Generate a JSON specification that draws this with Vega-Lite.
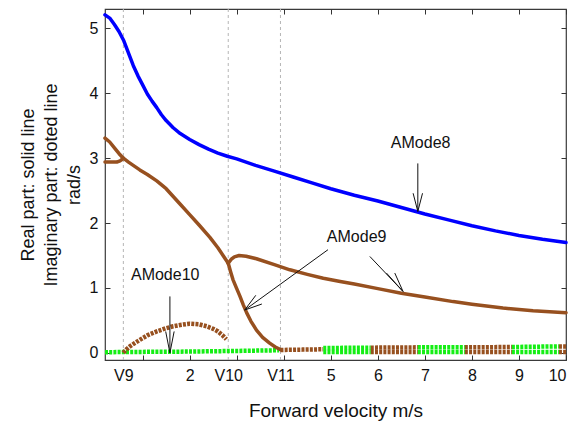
{
  "$schema": "https://vega.github.io/schema/vega-lite/v6.json",
  "width": 461,
  "height": 351,
  "autosize": {"type": "none"},
  "padding": {"left": 105, "top": 9, "right": 13, "bottom": 75},
  "config": {
    "view": {"stroke": "#3a3a3a", "strokeWidth": 1.2},
    "font": "Liberation Sans",
    "axis": {
      "labelFont": "Liberation Sans", "labelFontSize": 16, "labelColor": "#111",
      "titleFont": "Liberation Sans", "titleFontSize": 19, "titleFontWeight": "normal", "titleColor": "#111",
      "tickColor": "#333", "tickSize": -5, "tickWidth": 1, "domain": false, "grid": false, "labelPadding": 12
    }
  },
  "datasets": {
    "vlines": [{"v": 0.59}, {"v": 2.82}, {"v": 3.93}],
    "real": [
      {"series": "AMode8", "grp": "blue", "x": 0.2, "y": 5.21},
      {"series": "AMode8", "grp": "blue", "x": 0.3, "y": 5.16},
      {"series": "AMode8", "grp": "blue", "x": 0.4, "y": 5.06},
      {"series": "AMode8", "grp": "blue", "x": 0.5, "y": 4.95},
      {"series": "AMode8", "grp": "blue", "x": 0.6, "y": 4.81},
      {"series": "AMode8", "grp": "blue", "x": 0.7, "y": 4.62},
      {"series": "AMode8", "grp": "blue", "x": 0.8, "y": 4.43},
      {"series": "AMode8", "grp": "blue", "x": 0.9, "y": 4.27},
      {"series": "AMode8", "grp": "blue", "x": 1.0, "y": 4.13},
      {"series": "AMode8", "grp": "blue", "x": 1.1, "y": 3.99},
      {"series": "AMode8", "grp": "blue", "x": 1.2, "y": 3.88},
      {"series": "AMode8", "grp": "blue", "x": 1.3, "y": 3.78},
      {"series": "AMode8", "grp": "blue", "x": 1.4, "y": 3.67},
      {"series": "AMode8", "grp": "blue", "x": 1.5, "y": 3.58},
      {"series": "AMode8", "grp": "blue", "x": 1.65, "y": 3.47},
      {"series": "AMode8", "grp": "blue", "x": 1.8, "y": 3.38},
      {"series": "AMode8", "grp": "blue", "x": 2.0, "y": 3.29},
      {"series": "AMode8", "grp": "blue", "x": 2.2, "y": 3.21},
      {"series": "AMode8", "grp": "blue", "x": 2.4, "y": 3.14},
      {"series": "AMode8", "grp": "blue", "x": 2.6, "y": 3.08},
      {"series": "AMode8", "grp": "blue", "x": 2.8, "y": 3.03},
      {"series": "AMode8", "grp": "blue", "x": 3.0, "y": 2.99},
      {"series": "AMode8", "grp": "blue", "x": 3.4, "y": 2.89},
      {"series": "AMode8", "grp": "blue", "x": 3.8, "y": 2.8},
      {"series": "AMode8", "grp": "blue", "x": 4.2, "y": 2.71},
      {"series": "AMode8", "grp": "blue", "x": 4.6, "y": 2.62},
      {"series": "AMode8", "grp": "blue", "x": 5.0, "y": 2.53},
      {"series": "AMode8", "grp": "blue", "x": 5.5, "y": 2.43},
      {"series": "AMode8", "grp": "blue", "x": 6.0, "y": 2.34},
      {"series": "AMode8", "grp": "blue", "x": 6.5, "y": 2.24},
      {"series": "AMode8", "grp": "blue", "x": 7.0, "y": 2.14},
      {"series": "AMode8", "grp": "blue", "x": 7.5, "y": 2.05},
      {"series": "AMode8", "grp": "blue", "x": 8.0, "y": 1.96},
      {"series": "AMode8", "grp": "blue", "x": 8.5, "y": 1.88},
      {"series": "AMode8", "grp": "blue", "x": 9.0, "y": 1.81},
      {"series": "AMode8", "grp": "blue", "x": 9.5, "y": 1.75},
      {"series": "AMode8", "grp": "blue", "x": 10.0, "y": 1.7},
      {"series": "m9main", "grp": "brown", "x": 0.2, "y": 3.31},
      {"series": "m9main", "grp": "brown", "x": 0.3, "y": 3.25},
      {"series": "m9main", "grp": "brown", "x": 0.4, "y": 3.16},
      {"series": "m9main", "grp": "brown", "x": 0.5, "y": 3.07},
      {"series": "m9main", "grp": "brown", "x": 0.59, "y": 3.0},
      {"series": "m9main", "grp": "brown", "x": 0.7, "y": 2.94},
      {"series": "m9main", "grp": "brown", "x": 0.8, "y": 2.89},
      {"series": "m9main", "grp": "brown", "x": 0.94, "y": 2.82},
      {"series": "m9main", "grp": "brown", "x": 1.1, "y": 2.75},
      {"series": "m9main", "grp": "brown", "x": 1.3, "y": 2.65},
      {"series": "m9main", "grp": "brown", "x": 1.5, "y": 2.53},
      {"series": "m9main", "grp": "brown", "x": 1.65, "y": 2.41},
      {"series": "m9main", "grp": "brown", "x": 1.8, "y": 2.29},
      {"series": "m9main", "grp": "brown", "x": 2.0, "y": 2.13},
      {"series": "m9main", "grp": "brown", "x": 2.2, "y": 1.97},
      {"series": "m9main", "grp": "brown", "x": 2.43, "y": 1.78},
      {"series": "m9main", "grp": "brown", "x": 2.6, "y": 1.62},
      {"series": "m9main", "grp": "brown", "x": 2.72, "y": 1.49},
      {"series": "m9main", "grp": "brown", "x": 2.82, "y": 1.38},
      {"series": "m9up", "grp": "brown", "x": 2.82, "y": 1.38},
      {"series": "m9up", "grp": "brown", "x": 2.88, "y": 1.44},
      {"series": "m9up", "grp": "brown", "x": 2.95, "y": 1.48},
      {"series": "m9up", "grp": "brown", "x": 3.05, "y": 1.5},
      {"series": "m9up", "grp": "brown", "x": 3.2, "y": 1.49},
      {"series": "m9up", "grp": "brown", "x": 3.42, "y": 1.45},
      {"series": "m9up", "grp": "brown", "x": 3.8, "y": 1.36},
      {"series": "m9up", "grp": "brown", "x": 4.13, "y": 1.28},
      {"series": "m9up", "grp": "brown", "x": 4.5, "y": 1.21},
      {"series": "m9up", "grp": "brown", "x": 4.84, "y": 1.15},
      {"series": "m9up", "grp": "brown", "x": 5.2, "y": 1.1},
      {"series": "m9up", "grp": "brown", "x": 5.5, "y": 1.06},
      {"series": "m9up", "grp": "brown", "x": 6.0, "y": 0.99},
      {"series": "m9up", "grp": "brown", "x": 6.5, "y": 0.92},
      {"series": "m9up", "grp": "brown", "x": 7.0, "y": 0.86},
      {"series": "m9up", "grp": "brown", "x": 7.6, "y": 0.79},
      {"series": "m9up", "grp": "brown", "x": 8.0, "y": 0.75},
      {"series": "m9up", "grp": "brown", "x": 8.66, "y": 0.69},
      {"series": "m9up", "grp": "brown", "x": 9.3, "y": 0.65},
      {"series": "m9up", "grp": "brown", "x": 10.0, "y": 0.62},
      {"series": "m9down", "grp": "brown", "x": 2.82, "y": 1.38},
      {"series": "m9down", "grp": "brown", "x": 2.87, "y": 1.25},
      {"series": "m9down", "grp": "brown", "x": 2.92, "y": 1.13},
      {"series": "m9down", "grp": "brown", "x": 3.0, "y": 0.99},
      {"series": "m9down", "grp": "brown", "x": 3.07, "y": 0.87},
      {"series": "m9down", "grp": "brown", "x": 3.14, "y": 0.74},
      {"series": "m9down", "grp": "brown", "x": 3.21, "y": 0.62},
      {"series": "m9down", "grp": "brown", "x": 3.3, "y": 0.49},
      {"series": "m9down", "grp": "brown", "x": 3.42, "y": 0.35},
      {"series": "m9down", "grp": "brown", "x": 3.55, "y": 0.24},
      {"series": "m9down", "grp": "brown", "x": 3.7, "y": 0.15},
      {"series": "m9down", "grp": "brown", "x": 3.82, "y": 0.09},
      {"series": "m9down", "grp": "brown", "x": 3.93, "y": 0.05},
      {"series": "m9small", "grp": "brown", "x": 0.2, "y": 2.94},
      {"series": "m9small", "grp": "brown", "x": 0.45, "y": 2.94},
      {"series": "m9small", "grp": "brown", "x": 0.52, "y": 2.96},
      {"series": "m9small", "grp": "brown", "x": 0.56, "y": 2.98},
      {"series": "m9small", "grp": "brown", "x": 0.59, "y": 3.0}
    ],
    "imag": [
      {"series": "g1", "grp": "green", "x": 0.2, "y": 0.01},
      {"series": "g1", "grp": "green", "x": 1.0, "y": 0.015},
      {"series": "g1", "grp": "green", "x": 2.0, "y": 0.02},
      {"series": "g1", "grp": "green", "x": 3.0, "y": 0.03},
      {"series": "g1", "grp": "green", "x": 3.9, "y": 0.04},
      {"series": "arc", "grp": "brown", "x": 0.59, "y": 0.0},
      {"series": "arc", "grp": "brown", "x": 0.65, "y": 0.05},
      {"series": "arc", "grp": "brown", "x": 0.73, "y": 0.1},
      {"series": "arc", "grp": "brown", "x": 0.83, "y": 0.15},
      {"series": "arc", "grp": "brown", "x": 0.94, "y": 0.2},
      {"series": "arc", "grp": "brown", "x": 1.1, "y": 0.27},
      {"series": "arc", "grp": "brown", "x": 1.3, "y": 0.33},
      {"series": "arc", "grp": "brown", "x": 1.5, "y": 0.38},
      {"series": "arc", "grp": "brown", "x": 1.65, "y": 0.41},
      {"series": "arc", "grp": "brown", "x": 1.8, "y": 0.43},
      {"series": "arc", "grp": "brown", "x": 2.0, "y": 0.45},
      {"series": "arc", "grp": "brown", "x": 2.2, "y": 0.44},
      {"series": "arc", "grp": "brown", "x": 2.36, "y": 0.41},
      {"series": "arc", "grp": "brown", "x": 2.5, "y": 0.37},
      {"series": "arc", "grp": "brown", "x": 2.6, "y": 0.33},
      {"series": "arc", "grp": "brown", "x": 2.7, "y": 0.27},
      {"series": "arc", "grp": "brown", "x": 2.78, "y": 0.21},
      {"series": "b1", "grp": "brown", "x": 3.93, "y": 0.045},
      {"series": "b1", "grp": "brown", "x": 4.4, "y": 0.05},
      {"series": "b1", "grp": "brown", "x": 4.84, "y": 0.055},
      {"series": "g2a", "grp": "green", "x": 4.84, "y": 0.015},
      {"series": "g2a", "grp": "green", "x": 5.85, "y": 0.015},
      {"series": "g2b", "grp": "green", "x": 4.84, "y": 0.075},
      {"series": "g2b", "grp": "green", "x": 5.85, "y": 0.08},
      {"series": "b2a", "grp": "brown", "x": 5.85, "y": 0.015},
      {"series": "b2a", "grp": "brown", "x": 6.85, "y": 0.015},
      {"series": "b2b", "grp": "brown", "x": 5.85, "y": 0.08},
      {"series": "b2b", "grp": "brown", "x": 6.85, "y": 0.085},
      {"series": "g3a", "grp": "green", "x": 6.85, "y": 0.015},
      {"series": "g3a", "grp": "green", "x": 7.85, "y": 0.015},
      {"series": "g3b", "grp": "green", "x": 6.85, "y": 0.085},
      {"series": "g3b", "grp": "green", "x": 7.85, "y": 0.085},
      {"series": "b3a", "grp": "brown", "x": 7.85, "y": 0.015},
      {"series": "b3a", "grp": "brown", "x": 8.85, "y": 0.015},
      {"series": "b3b", "grp": "brown", "x": 7.85, "y": 0.085},
      {"series": "b3b", "grp": "brown", "x": 8.85, "y": 0.09},
      {"series": "g4a", "grp": "green", "x": 8.85, "y": 0.015},
      {"series": "g4a", "grp": "green", "x": 9.85, "y": 0.015},
      {"series": "g4b", "grp": "green", "x": 8.85, "y": 0.09},
      {"series": "g4b", "grp": "green", "x": 9.85, "y": 0.1},
      {"series": "b4a", "grp": "brown", "x": 9.85, "y": 0.015},
      {"series": "b4a", "grp": "brown", "x": 10.0, "y": 0.015},
      {"series": "b4b", "grp": "brown", "x": 9.85, "y": 0.1},
      {"series": "b4b", "grp": "brown", "x": 10.0, "y": 0.1}
    ],
    "arrows": [
      {"x": 6.85, "y": 2.92, "x2": 6.85, "y2": 2.18},
      {"x": 6.85, "y": 2.18, "x2": 6.75, "y2": 2.46},
      {"x": 6.85, "y": 2.18, "x2": 6.95, "y2": 2.46},
      {"x": 1.58, "y": 0.87, "x2": 1.58, "y2": 0.0},
      {"x": 1.58, "y": 0.0, "x2": 1.49, "y2": 0.33},
      {"x": 1.58, "y": 0.0, "x2": 1.67, "y2": 0.33},
      {"x": 4.94, "y": 1.59, "x2": 3.17, "y2": 0.66},
      {"x": 3.17, "y": 0.66, "x2": 3.535, "y2": 0.753},
      {"x": 3.17, "y": 0.66, "x2": 3.405, "y2": 0.887},
      {"x": 5.83, "y": 1.486, "x2": 6.536, "y2": 0.946},
      {"x": 6.536, "y": 0.946, "x2": 6.183, "y2": 1.23},
      {"x": 6.536, "y": 0.946, "x2": 6.36, "y2": 1.23}
    ],
    "labels": [
      {"label": "AMode8", "x": 6.91, "y": 3.24},
      {"label": "AMode9", "x": 5.55, "y": 1.79},
      {"label": "AMode10", "x": 1.48, "y": 1.2}
    ]
  },
  "layer": [
    {
      "data": {"name": "vlines"},
      "mark": {"type": "rule", "color": "#b5b5b5", "strokeWidth": 1, "strokeDash": [3, 3]},
      "encoding": {
        "x": {
          "field": "v", "type": "quantitative",
          "scale": {"domain": [0.2, 10], "nice": false, "zero": false},
          "axis": {
            "orient": "bottom",
            "title": "Forward velocity m/s",
            "titlePadding": 18,
            "values": [0.59, 1, 2, 2.82, 3, 3.93, 4, 5, 6, 7, 8, 9, 10],
            "labelExpr": "datum.value == 0.59 ? 'V9' : datum.value == 2.82 ? 'V10' : datum.value == 3.93 ? 'V11' : (datum.value == 1 || datum.value == 3 || datum.value == 4) ? '' : datum.label",
            "tickOpacity": {"condition": {"test": "datum.value == 0.59 || datum.value == 2.82 || datum.value == 3.93", "value": 0}, "value": 1}
          }
        }
      }
    },
    {
      "data": {"name": "imag"},
      "mark": {"type": "line", "strokeWidth": 4.5, "strokeDash": [3, 1.2]},
      "encoding": {
        "x": {"field": "x", "type": "quantitative", "scale": {"domain": [0.2, 10], "nice": false, "zero": false}, "axis": null},
        "y": {"field": "y", "type": "quantitative", "scale": {"domain": [-0.11, 5.3], "nice": false, "zero": false}, "axis": null},
        "detail": {"field": "series"},
        "color": {"field": "grp", "type": "nominal", "scale": {"domain": ["blue", "brown", "green"], "range": ["#0000FF", "#97501F", "#14EE14"]}, "legend": null}
      }
    },
    {
      "data": {"name": "real"},
      "mark": {"type": "line", "strokeWidth": 3.5, "strokeJoin": "round", "strokeCap": "round"},
      "encoding": {
        "x": {"field": "x", "type": "quantitative", "scale": {"domain": [0.2, 10], "nice": false, "zero": false},
          "axis": {"orient": "top", "labels": false, "title": null, "values": [1, 2, 3, 4, 5, 6, 7, 8, 9, 10]}},
        "y": {"field": "y", "type": "quantitative", "scale": {"domain": [-0.11, 5.3], "nice": false, "zero": false},
          "axis": {"orient": "left", "values": [0, 1, 2, 3, 4, 5], "title": ["Real part: solid line", "Imaginary part: doted line", "rad/s"], "titleLineHeight": 23, "titlePadding": 6, "titleFontSize": 18}},
        "detail": {"field": "series"},
        "strokeWidth": {"field": "grp", "type": "nominal", "scale": {"domain": ["blue", "brown"], "range": [4.5, 3.5]}, "legend": null},
        "color": {"field": "grp", "type": "nominal", "scale": {"domain": ["blue", "brown", "green"], "range": ["#0000FF", "#97501F", "#14EE14"]}, "legend": null}
      }
    },
    {
      "data": {"name": "arrows"},
      "mark": {"type": "rule", "color": "#111", "strokeWidth": 1},
      "encoding": {
        "x": {"field": "x", "type": "quantitative", "scale": {"domain": [0.2, 10], "nice": false, "zero": false}, "axis": null},
        "y": {"field": "y", "type": "quantitative", "scale": {"domain": [-0.11, 5.3], "nice": false, "zero": false},
          "axis": {"orient": "right", "labels": false, "title": null, "values": [0, 1, 2, 3, 4, 5]}},
        "x2": {"field": "x2"},
        "y2": {"field": "y2"}
      }
    },
    {
      "data": {"name": "labels"},
      "mark": {"type": "text", "font": "Liberation Sans", "fontSize": 16, "color": "#111", "align": "center", "baseline": "middle"},
      "encoding": {
        "x": {"field": "x", "type": "quantitative", "scale": {"domain": [0.2, 10], "nice": false, "zero": false}, "axis": null},
        "y": {"field": "y", "type": "quantitative", "scale": {"domain": [-0.11, 5.3], "nice": false, "zero": false}, "axis": null},
        "text": {"field": "label"}
      }
    }
  ],
  "resolve": {"axis": {"x": "independent", "y": "independent"}}
}
